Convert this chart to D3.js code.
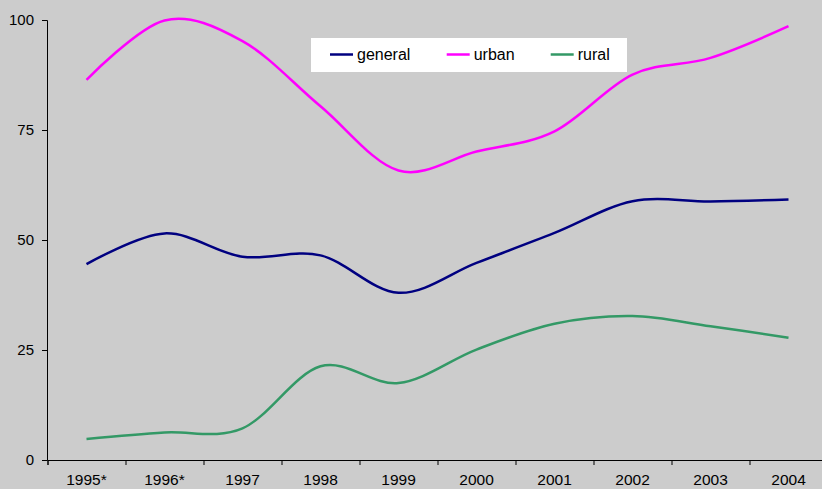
<!DOCTYPE html>
<html lang="en">
  <head>
    <meta charset="utf-8">
    <script src="https://cdnjs.cloudflare.com/ajax/libs/d3/7.8.5/d3.min.js"></script>
    <title>general / urban / rural</title>
    <style>
      body { margin: 0; background: #cccccc; }
      svg { display: block; }
      text { font-family: "Liberation Sans", Arial, sans-serif; }
    </style>
  </head>
  <body>
    <script>

    var years = ["1995*", "1996*", "1997", "1998", "1999", "2000", "2001", "2002", "2003", "2004"];
    var general = [44.5, 51.5, 46.2, 46.5, 38.0, 44.8, 51.6, 58.8, 58.75, 59.2];
    var urban = [86.4, 99.9, 95.2, 80.4, 65.8, 70.1, 74.7, 87.6, 91.4, 98.6];
    var rural = [4.8, 6.25, 7.2, 21.3, 17.5, 25.1, 30.95, 32.7, 30.4, 27.8];
    var yTicks = [0, 25, 50, 75, 100];

    var series = [
      {name: "general", values: general, color: "#000080"},
      {name: "urban", values: urban, color: "#ff00ff"},
      {name: "rural", values: rural, color: "#339966"}
    ];

    var width = 822, height = 489;
    var margin = {top: 20, left: 47, bottom: 29};

    var svg = d3.select("body")
      .append("svg")
        .attr("width", width)
        .attr("height", height);

    // categories sit in bands of 78px; the last band runs past the right edge
    var x = d3.scaleBand()
          .domain(years)
          .range([margin.left + 0.5, margin.left + 0.5 + 78 * years.length]);

    var xEdge = d3.scaleLinear()
          .domain([0, years.length])
          .range(x.range());

    var y = d3.scaleLinear()
          .domain([0, 100])
          .range([height - margin.bottom, margin.top]);

    // y axis
    svg.append("g")
        .attr("transform", "translate(" + margin.left + ",0)")
        .call(d3.axisLeft(y).tickValues(yTicks).tickSize(5).tickPadding(8))
        .call(function(g) {
          g.selectAll("line, path").attr("stroke", "#000");
          g.selectAll("text").attr("font-size", 15).attr("fill", "#000");
        });

    // x axis: tick marks on category boundaries
    svg.append("g")
        .attr("transform", "translate(0," + (height - margin.bottom) + ")")
        .call(d3.axisBottom(xEdge).tickValues(d3.range(years.length + 1)).tickSize(5).tickFormat(""))
        .call(function(g) {
          g.selectAll("line, path").attr("stroke", "#000");
        });

    // x labels centred on the bands
    svg.append("g")
        .attr("transform", "translate(0," + (height - margin.bottom) + ")")
        .call(d3.axisBottom(x).tickSize(0).tickPadding(14))
        .call(function(g) {
          g.select(".domain").remove();
          g.selectAll("text").attr("font-size", 15.5).attr("fill", "#000");
        });

    var line = d3.line()
        .x(function(d, i) { return x(years[i]) + x.bandwidth() / 2; })
        .y(function(d) { return y(d); })
        .curve(d3.curveCardinal.tension(0));

    svg.selectAll(".series")
        .data(series)
        .enter()
      .append("path")
        .attr("class", "series")
        .attr("fill", "none")
        .attr("stroke", function(d) { return d.color; })
        .attr("stroke-width", 2.5)
        .attr("d", function(d) { return line(d.values); });

    // legend
    var legend = svg.append("g")
        .attr("transform", "translate(311,38)");

    legend.append("rect")
        .attr("width", 316)
        .attr("height", 34)
        .attr("fill", "#fff");

    var item = legend.selectAll(".item")
        .data(series)
        .enter()
      .append("g")
        .attr("class", "item")
        .attr("transform", function(d, i) { return "translate(" + [19 + [0, 116.7, 220.7][i], 16.5] + ")"; });

    item.append("line")
        .attr("x1", 0)
        .attr("x2", 23)
        .attr("stroke", function(d) { return d.color; })
        .attr("stroke-width", 2.5);

    item.append("text")
        .attr("x", 27)
        .attr("dy", "0.35em")
        .attr("font-size", 16)
        .attr("fill", "#000")
        .text(function(d) { return d.name; });

    </script>
  </body>
</html>
